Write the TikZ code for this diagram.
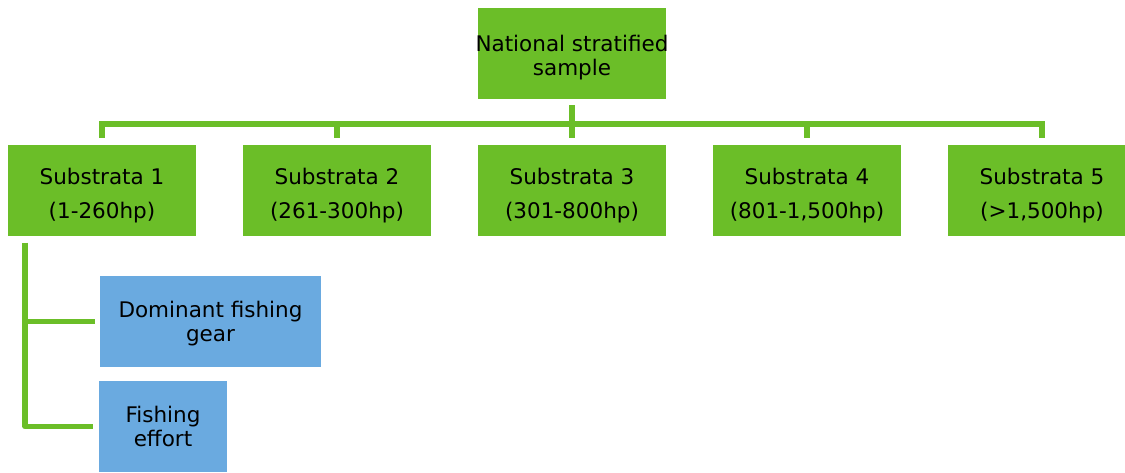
\documentclass[tikz,border=0pt]{standalone}
\usepackage{fontspec}
\setmainfont{DejaVu Sans}
\definecolor{boxgreen}{RGB}{107,190,40}
\definecolor{boxblue}{RGB}{106,170,224}
\newcommand\twoline[4]{\raisebox{#1}[0pt][0pt]{\begin{tabular}{@{}c@{}}#3\\[#2]#4\end{tabular}}}
\begin{document}
\begin{tikzpicture}[x=1pt,y=-1pt,
  gbox/.style={fill=boxgreen, draw=none, minimum width=188pt, minimum height=91pt, inner sep=0pt, align=center, font=\fontsize{21.5}{24}\selectfont},
  bbox/.style={fill=boxblue, draw=none, minimum height=91pt, inner sep=0pt, align=center, font=\fontsize{21.5}{24}\selectfont},
  conn/.style={draw=boxgreen, line width=5.5pt}]
\useasboundingbox (0,0) rectangle (1125,473);
\node[gbox] (top) at (572,53.5) {\twoline{-10.4pt}{0pt}{\makebox[0pt]{National stratified}}{sample}};
\node[gbox] (s1) at (102,191) {\twoline{-10.4pt}{10pt}{Substrata 1}{(1-260hp)}};
\node[gbox] (s2) at (337,191) {\twoline{-10.4pt}{10pt}{Substrata 2}{(261-300hp)}};
\node[gbox] (s3) at (572,191) {\twoline{-10.4pt}{10pt}{Substrata 3}{(301-800hp)}};
\node[gbox] (s4) at (807,191) {\twoline{-10.4pt}{10pt}{Substrata 4}{(801-1,500hp)}};
\node[gbox] (s5) at (1042,191) {\twoline{-10.4pt}{10pt}{Substrata 5}{(>1,500hp)}};
\node[bbox, minimum width=221pt] (g1) at (210.5,321.5) {\twoline{-8.4pt}{0pt}{Dominant fishing}{gear}};
\node[bbox, minimum width=128pt] (g2) at (163,426.5) {\twoline{-8.4pt}{0pt}{Fishing}{effort}};
\coordinate (bar) at (572,124);
\coordinate (trunk) at (25,0);
\draw[conn, shorten <=6pt] (top.south) -- (top.south |- bar);
\draw[conn, line cap=rect] (s1.north |- bar) -- (s5.north |- bar);
\foreach \s in {s1,s2,s3,s4,s5}
  \draw[conn, shorten >=7pt] (\s.north |- bar) -- (\s.north);
\draw[conn, line join=round, shorten <=6pt, shorten >=6pt] (s1.south -| trunk) -- (g2.west -| trunk) -- (g2.west);
\draw[conn, shorten >=5pt] (g1.west -| trunk) -- (g1.west);
\end{tikzpicture}
\end{document}
